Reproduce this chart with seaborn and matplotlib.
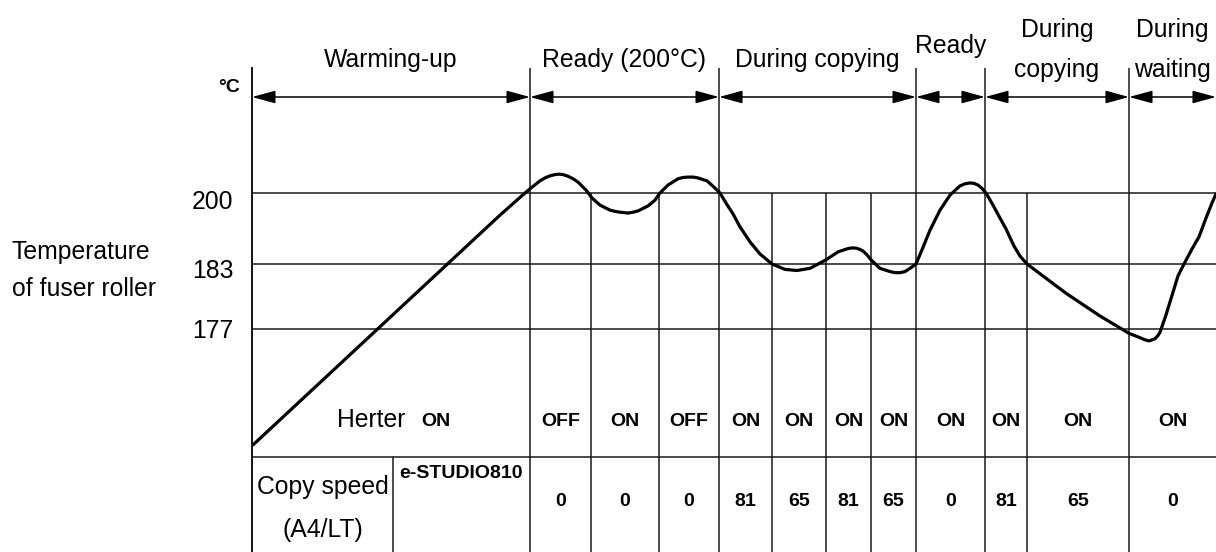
import matplotlib

matplotlib.use("Agg")
import matplotlib.pyplot as plt
import matplotlib.transforms as mtransforms
import numpy as np
import pandas as pd
import seaborn as sns

# schematic time axis (arbitrary units) and fuser roller temperature (deg C)
time = [1, 248, 273, 279, 288, 293, 298, 303, 307, 311, 316, 321, 326, 334, 340,
        348, 358, 363, 368, 372, 376, 381, 386, 396, 403, 408, 416, 426, 431, 436,
        441, 446, 451, 455, 462, 468, 474, 481, 488, 498, 508, 520, 533, 545, 558,
        574, 586, 596, 600, 604, 608, 611, 615, 619, 628, 638, 643, 648, 653, 658,
        664, 670, 678, 688, 698, 708, 713, 718, 722, 726, 730, 734, 741, 748, 754,
        762, 768, 775, 788, 814, 848, 877, 888, 893, 897, 900, 903, 906, 908, 914,
        920, 926, 932, 940, 947, 954, 960, 964]
temp = [166.3, 194.7, 200.0, 201.2, 202.9, 203.6, 204.1, 204.4, 204.5, 204.4,
        204.0, 203.4, 202.6, 200.7, 198.8, 197.1, 195.9, 195.6, 195.4, 195.3,
        195.2, 195.4, 195.7, 196.9, 198.3, 200.0, 201.9, 203.4, 203.7, 203.8,
        203.8, 203.6, 203.2, 202.9, 201.4, 200.0, 197.6, 195.0, 191.9, 188.3,
        185.4, 183.0, 182.5, 182.4, 182.6, 184.0, 185.9, 186.7, 186.85, 186.8,
        186.5, 186.1, 185.2, 184.0, 182.6, 182.3, 182.2, 182.2, 182.3, 182.6,
        183.0, 186.4, 191.1, 195.9, 199.5, 201.7, 202.2, 202.4, 202.3, 201.9,
        201.1, 200.0, 197.1, 194.0, 191.4, 187.3, 184.9, 183.0, 182.1, 180.3,
        178.2, 176.6, 176.2, 176.0, 175.9, 176.0, 176.1, 176.4, 176.7, 178.3,
        180.1, 181.9, 183.0, 186.6, 189.5, 194.0, 197.6, 199.8]

phase_labels = ["Warming-up", "Ready (200°C)", "During copying", "Ready",
                "During\ncopying", "During\nwaiting"]
phase_edges = [0, 278, 467, 664, 733, 877, 964]
step_edges = [339, 407, 520, 574, 619, 775]
temp_ticks = [200, 183, 177]
heater_state = ["OFF", "ON", "OFF", "ON", "ON", "ON", "ON", "ON", "ON", "ON", "ON"]
copy_speed = ["0", "0", "0", "81", "65", "81", "65", "0", "81", "65", "0"]
ylabel_lines = ["Temperature", "of fuser roller"]
speed_lines = ["Copy speed", "(A4/LT)"]
model_name = "e-STUDIO810"

# piecewise scale: the drawing is schematic, not linear in temperature
TEMP_KNOTS = [150, 177, 183, 200, 240]
LEVEL_KNOTS = [-69.5, 223, 288, 359, 526.5]


def fwd(t):
    return np.interp(t, TEMP_KNOTS, LEVEL_KNOTS)


def inv(v):
    return np.interp(v, LEVEL_KNOTS, TEMP_KNOTS)


def frac(px):
    # vertical pixel position (from top of image) -> axes fraction
    return (552 - px) / 484


sns.set_theme(style="white")
plt.rcParams["font.family"] = ["Liberation Sans", "DejaVu Sans"]
plt.rcParams["text.color"] = "black"

fig = plt.figure(figsize=(12.16, 5.52), dpi=100)
ax = fig.add_axes([252 / 1216, 0, 964 / 1216, 484 / 552])
ax.set_yscale("function", functions=(fwd, inv))
ax.set_xlim(0, 964)
ax.set_ylim(inv(0), inv(484))

for side in ["top", "right", "bottom"]:
    ax.spines[side].set_visible(False)
ax.spines["left"].set_color("black")
ax.spines["left"].set_linewidth(1.3)

NORMAL = 17.8
BOLD = 14
line_kw = dict(color="#1a1a1a", lw=1.1)
trans = ax.get_xaxis_transform()

# grid of the schematic
for t in temp_ticks:
    ax.axhline(t, **line_kw, zorder=1)
ax.vlines(phase_edges[1:-1], 0, 1, transform=trans, **line_kw, zorder=1)
ax.vlines(step_edges, inv(0), 200, **line_kw, zorder=1)
ax.plot([0, 964], [frac(457)] * 2, transform=trans, **line_kw)
ax.plot([141, 141], [0, frac(457)], transform=trans, **line_kw)

# temperature curve
df = pd.DataFrame({"time": time, "temp": temp})
sns.lineplot(data=df, x="time", y="temp", color="black", lw=2.3, sort=False,
             estimator=None, ax=ax, zorder=3)
ax.lines[-1].set_solid_joinstyle("round")

# y ticks
ax.set_yticks(temp_ticks)
ax.set_yticklabels([str(t) for t in temp_ticks])
ax.set_xticks([])
ax.tick_params(axis="y", length=0, pad=13.5, labelsize=NORMAL, labelcolor="black")
ax.set_xlabel("")
ax.set_ylabel("")
for lab, dy in zip(ax.get_yticklabels(), [-7, -5, 0]):
    lab.set_transform(lab.get_transform() + mtransforms.ScaledTranslation(0, dy / 100, fig.dpi_scale_trans))

# phase arrows and headers
arrow_y = frac(97)
header_y = [frac(60), frac(60), frac(60), frac(46), frac(50), frac(50)]
for i, label in enumerate(phase_labels):
    a, b = phase_edges[i], phase_edges[i + 1]
    ax.annotate("", xy=(a, arrow_y), xytext=(b, arrow_y), xycoords=trans,
                textcoords=trans, annotation_clip=False,
                arrowprops=dict(arrowstyle="<|-|>,head_length=0.55,head_width=0.15",
                                mutation_scale=26, color="black", lw=1.1,
                                shrinkA=0, shrinkB=0))
    ax.text((a + b) / 2, header_y[i], label, transform=trans, ha="center",
            va="center", fontsize=NORMAL, linespacing=1.85, clip_on=False)

fig.text(240 / 1216, 1 - 87 / 552, "°C", ha="right", va="center",
         fontsize=BOLD, fontweight="bold")
for k, line in enumerate(ylabel_lines):
    fig.text(12 / 1216, 1 - (252 + 37 * k) / 552, line, ha="left", va="center",
             fontsize=NORMAL)

# table rows
cells = sorted(phase_edges[1:] + step_edges)
centers = [(cells[i] + cells[i + 1]) / 2 for i in range(len(cells) - 1)]
ax.text(153, frac(420), "Herter", transform=trans, ha="right", va="center",
        fontsize=NORMAL)
ax.text(169, frac(421), "ON", transform=trans, ha="left", va="center",
        fontsize=BOLD, fontweight="bold")
for x, state, speed in zip(centers, heater_state, copy_speed):
    ax.text(x, frac(421), state, transform=trans, ha="center", va="center",
            fontsize=BOLD, fontweight="bold")
    ax.text(x, frac(501), speed, transform=trans, ha="center", va="center",
            fontsize=BOLD, fontweight="bold")
for k, line in enumerate(speed_lines):
    ax.text(71, frac(487 + 43 * k), line, transform=trans, ha="center",
            va="center", fontsize=NORMAL)
ax.text(209, frac(474), model_name, transform=trans, ha="center", va="center",
        fontsize=BOLD, fontweight="bold")

fig.savefig("out.png", dpi=100)
